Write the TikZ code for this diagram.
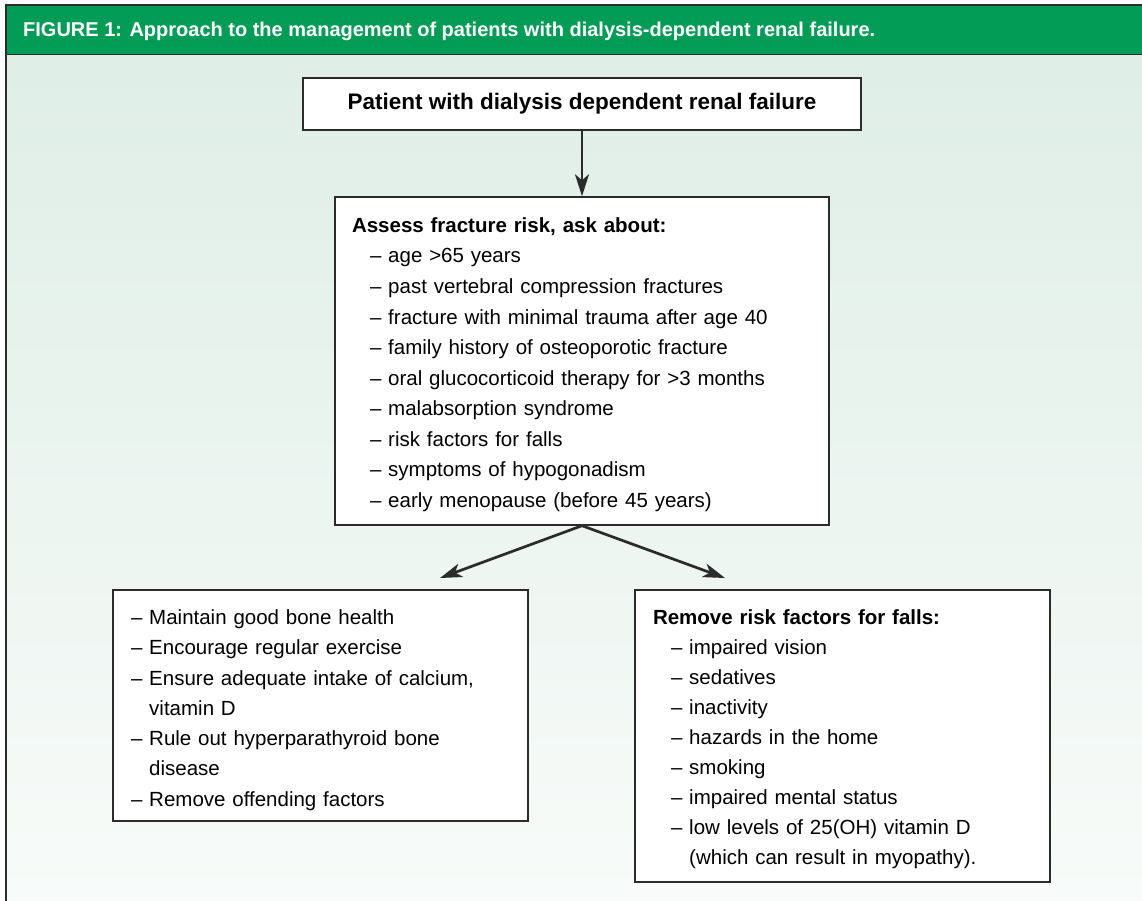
\documentclass[tikz,border=0pt]{standalone}
\usepackage{fontspec}
\setmainfont{Liberation Sans}
\usetikzlibrary{arrows.meta}
\definecolor{headgreen}{HTML}{039C57}
\definecolor{paletop}{HTML}{DFEEE7}
\definecolor{palebot}{HTML}{F8FBF9}
\definecolor{rulegray}{HTML}{2B2B2B}
\newcommand{\itm}{\hspace*{18pt}– }
\newcommand{\cnt}{\phantom{– }}

\begin{document}
\begin{tikzpicture}[x=1pt, y=-1pt,
  box/.style={draw=rulegray, line width=1.4pt, fill=white, align=left, inner sep=0pt},
  arr/.style={-{Stealth[length=22pt,width=14pt,inset=6pt]}, line width=2.7pt, draw=rulegray}]
\useasboundingbox (0,0) rectangle (1142,901);
% background and title bar
\shade[top color=paletop, bottom color=palebot] (6,54) rectangle (1142,901);
\fill[headgreen] (6,6) rectangle (1142,54);
\draw[rulegray, line width=1.6pt] (1142,5) -- (6,5) -- (6,901);
\draw[rulegray, line width=1.2pt] (6,54.5) -- (1142,54.5);
\node[anchor=west, inner sep=0pt, text=white, font=\bfseries\fontsize{20}{22}\selectfont] (caption) at (23,31)
  {FIGURE 1: Approach to the management of patients with dialysis-dependent renal failure.};

% boxes
\node[box, align=center, minimum width=558pt, minimum height=52pt,
  font=\bfseries\fontsize{22.5}{26}\selectfont] (patient) at (582,104)
  {Patient with dialysis dependent renal failure};
\node[box, text width=460pt, minimum width=494pt, minimum height=328pt,
  font=\fontsize{20.5}{30.56}\selectfont] (risk) at (582,361)
  {\rule{0pt}{22pt}\textbf{Assess fracture risk, ask about:}\\
   \itm age >65 years\\
   \itm past vertebral compression fractures\\
   \itm fracture with minimal trauma after age 40\\
   \itm family history of osteoporotic fracture\\
   \itm oral glucocorticoid therapy for >3 months\\
   \itm malabsorption syndrome\\
   \itm risk factors for falls\\
   \itm symptoms of hypogonadism\\
   \itm early menopause (before 45 years)};
\node[box, text width=379pt, minimum width=415pt, minimum height=231pt,
  font=\fontsize{20.5}{30.3}\selectfont] (care) at (320.5,705.5)
  {\rule{0pt}{24pt}– Maintain good bone health\\
   – Encourage regular exercise\\
   – Ensure adequate intake of calcium,\\
   \cnt vitamin D\\
   – Rule out hyperparathyroid bone\\
   \cnt disease\\
   – Remove offending factors};
\node[box, text width=379pt, minimum width=415pt, minimum height=292pt,
  font=\fontsize{20.5}{30}\selectfont] (falls) at (842.5,736)
  {\rule{0pt}{21pt}\textbf{Remove risk factors for falls:}\\
   \itm impaired vision\\
   \itm sedatives\\
   \itm inactivity\\
   \itm hazards in the home\\
   \itm smoking\\
   \itm impaired mental status\\
   \itm low levels of 25(OH) vitamin D\\
   \hspace*{18pt}\cnt (which can result in myopathy).};

% arrows
\coordinate (care tip) at (440,578);
\coordinate (falls tip) at (725,578);
\draw[arr] (patient) -- (risk);
\draw[arr] (risk.south) -- (care tip);
\draw[arr] (risk.south) -- (falls tip);
\end{tikzpicture}
\end{document}
